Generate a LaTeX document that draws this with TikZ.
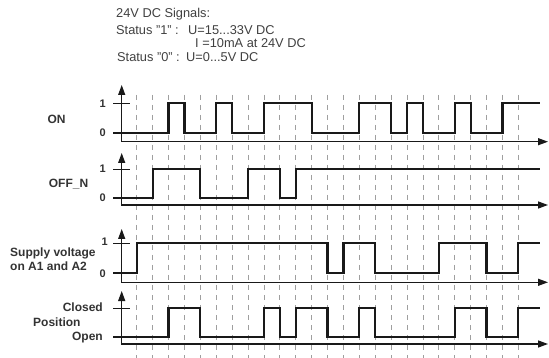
\documentclass[tikz,border=0pt]{standalone}
\usepackage{fontspec}
\setmainfont{Liberation Sans}
\usetikzlibrary{arrows.meta}
\begin{document}
\begin{tikzpicture}[x=1pt,y=-1pt,
  wave/.style={line width=2.2pt, line join=miter, draw=black!90},
  axisline/.style={line width=1.2pt, draw=black!90, line join=miter,
     {Triangle[length=10pt,width=7pt]}-{Triangle[length=10pt,width=7pt]}},
  tickline/.style={line width=1.2pt, draw=black!90},
  gridline/.style={draw=gray!75, line width=0.8pt, dash pattern=on 5pt off 5pt},
  lbl/.style={font=\bfseries\fontsize{12}{13}\selectfont, text=black!80, inner sep=0pt},
  lvl/.style={font=\bfseries\fontsize{11}{12}\selectfont, text=black!80, inner sep=0pt, anchor=east},
  hdr/.style={font=\fontsize{12.8}{14}\selectfont, text=black!75, inner sep=0pt, anchor=base west},
]
\useasboundingbox (0,0) rectangle (549,358);

% header
\node[hdr] (h0) at (116,17.5) {24V DC Signals:};
\node[hdr] (h1) at (116,34.5) {Status "1" :};
\node[hdr] (h1v) at (188,34.5) {U=15...33V DC};
\node[hdr] (h2v) at (195,47.5) {I =10mA at 24V DC};
\node[hdr] (h3) at (117,62) {Status "0" :};
\node[hdr] (h3v) at (186,62) {U=0...5V DC};

% signal labels
\node[lbl] (lon) at (56.5,119) {ON};
\node[lbl] (loff) at (68.5,184) {OFF\_N};
\node[lbl, anchor=west] (lsup1) at (10,253) {Supply voltage};
\node[lbl, anchor=west] (lsup2) at (10,266.5) {on A1 and A2};
\node[lbl, anchor=east] (lcl) at (103,307) {Closed};
\node[lbl, anchor=west] (lpos) at (33,322) {Position};
\node[lbl, anchor=east] (lop) at (103,338) {Open};

\node[lvl] (on1) at (106,103.5) {1};
\node[lvl] (on0) at (106,133) {0};
\node[lvl] (of1) at (106,169) {1};
\node[lvl] (of0) at (106,197.5) {0};
\node[lvl] (su1) at (108,242) {1};
\node[lvl] (su0) at (106,274) {0};

\begin{scope}[x=15.9pt, xshift=136.7pt]
  % dashed time grid
  \foreach \i in {0,...,24}
    \draw[gridline] (\i,95) -- (\i,358);

  % ON
  \draw[axisline] (-0.943,85) -- (-0.943,141.7) -- (25.87,141.7);
  \draw[tickline] (-1.49,103.3) -- (-0.42,103.3);
  \draw[wave] (-1.49,133.3) -| (2,103.3) -| (3,133.3) -| (5,103.3) -| (6,133.3)
     -| (8,103.3) -| (11,133.3) -| (14,103.3) -| (16,133.3) -| (17,103.3)
     -| (18,133.3) -| (20,103.3) -| (21,133.3) -| (23,103.3) -- (25.37,103.3);

  % OFF_N
  \draw[axisline] (-0.943,153) -- (-0.943,205) -- (25.87,205);
  \draw[tickline] (-1.49,169.3) -- (-0.42,169.3);
  \draw[wave] (-1.49,197.7) -| (1,169.3) -| (4,197.7) -| (7,169.3) -| (9,197.7)
     -| (10,169.3) -- (25.37,169.3);

  % Supply voltage
  \draw[axisline] (-0.943,229) -- (-0.943,282.3) -- (25.87,282.3);
  \draw[tickline] (-1.49,243.3) -- (-0.42,243.3);
  \draw[wave] (-1.49,272.7) -| (0,243.3) -| (12,272.7) -| (13,243.3) -| (15,272.7)
     -| (19,243.3) -| (22,272.7) -| (24,243.3) -- (25.37,243.3);

  % Position
  \draw[axisline] (-0.943,291) -- (-0.943,344) -- (25.87,344);
  \draw[tickline] (-1.49,308.3) -- (-0.42,308.3);
  \draw[wave] (-1.49,336.7) -| (2,308.3) -| (4,336.7) -| (8,308.3) -| (9,336.7)
     -| (10,308.3) -| (12,336.7) -| (14,308.3) -| (15,336.7) -| (20,308.3)
     -| (22,336.7) -| (24,308.3) -- (25.37,308.3);
\end{scope}
\end{tikzpicture}
\end{document}
